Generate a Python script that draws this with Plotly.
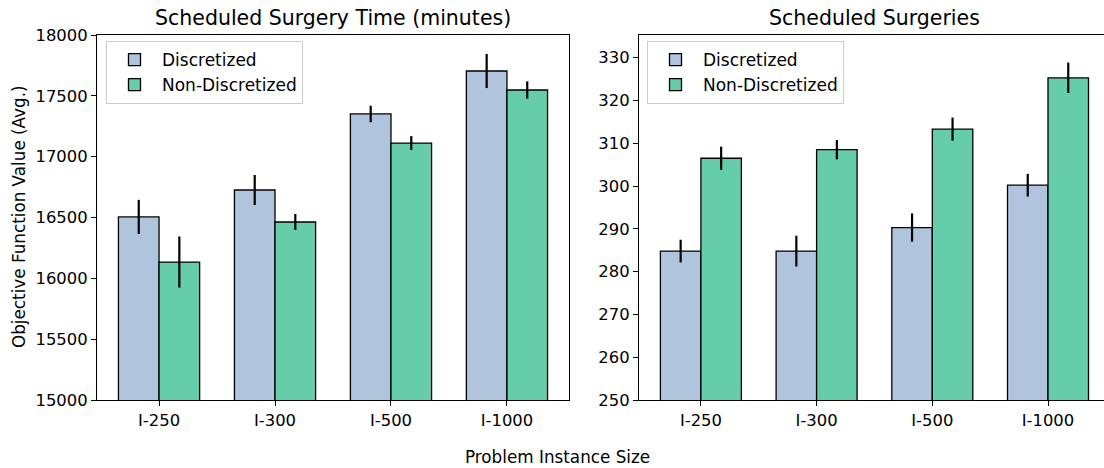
import plotly.graph_objects as go

categories = ["I-250", "I-300", "I-500", "I-1000"]

time_disc = [16505, 16726, 17351, 17704]
time_disc_err = [140, 123, 68, 140]
time_nondisc = [16134, 16463, 17112, 17548]
time_nondisc_err = [210, 66, 57, 71]

count_disc = [284.8, 284.8, 290.3, 300.2]
count_disc_err = [2.65, 3.6, 3.3, 2.65]
count_nondisc = [306.5, 308.5, 313.3, 325.3]
count_nondisc_err = [2.7, 2.25, 2.7, 3.55]

C_DISC = "#B0C4DE"
C_NON = "#66CDAA"
FONT = "DejaVu Sans"
W, H = 1104, 468

fig = go.Figure()

def add_pair(disc, disc_err, non, non_err, xa, ya, legend):
    for name, vals, errs, col in [("Discretized", disc, disc_err, C_DISC),
                                  ("Non-Discretized", non, non_err, C_NON)]:
        fig.add_trace(go.Bar(
            x=categories, y=vals, name=name, xaxis=xa, yaxis=ya, legend=legend,
            marker=dict(color=col, line=dict(color="black", width=1.3)),
            error_y=dict(type="data", array=errs, color="black", thickness=2.2, width=0),
            offsetgroup=name,
        ))

add_pair(time_disc, time_disc_err, time_nondisc, time_nondisc_err, "x", "y", "legend")
add_pair(count_disc, count_disc_err, count_nondisc, count_nondisc_err, "x2", "y2", "legend2")

ybot = 1 - 400 / H
ytop = 1 - 35 / H

axis_common = dict(
    showline=True, linecolor="black", linewidth=1.1,
    ticks="outside", ticklen=5, tickwidth=1.1, tickcolor="black",
    tickfont=dict(family=FONT, size=16.4, color="black"),
    showgrid=False, zeroline=False, automargin=False,
)

legend_common = dict(
    xanchor="left", yanchor="top",
    bgcolor="rgba(255,255,255,0.8)", bordercolor="#cccccc", borderwidth=1,
    font=dict(family=FONT, size=17, color="black"), itemwidth=45,
    tracegroupgap=0,
)

fig.update_layout(
    width=W, height=H, autosize=False,
    margin=dict(l=0, r=0, t=0, b=0, pad=0, autoexpand=False),
    paper_bgcolor="white", plot_bgcolor="white",
    barmode="group", bargap=0.3, bargroupgap=0,
    font=dict(family=FONT, color="black"),
    xaxis=dict(domain=[97 / W, 569 / W], anchor="y", type="category",
               range=[-0.535, 3.535], mirror=True, **axis_common),
    yaxis=dict(domain=[ybot, ytop], anchor="x", range=[15000, 18000], dtick=500,
               tickformat="d", mirror=True, **axis_common),
    xaxis2=dict(domain=[639 / W, 1.0], anchor="y2", type="category",
                range=[-0.535, 3.484], mirror=True, **axis_common),
    yaxis2=dict(domain=[ybot, ytop], anchor="x2", range=[250, 335.3], dtick=10,
                tickformat="d", mirror=False, **axis_common),
    legend=dict(x=106 / W, y=1 - 41 / H, **legend_common),
    legend2=dict(x=647 / W, y=1 - 41 / H, **legend_common),
    annotations=[
        dict(text="Scheduled Surgery Time (minutes)", x=333 / W, y=1 - 18 / H,
             xref="paper", yref="paper", showarrow=False, xanchor="center", yanchor="middle",
             font=dict(family=FONT, size=20.5, color="black")),
        dict(text="Scheduled Surgeries", x=874.5 / W, y=1 - 18 / H,
             xref="paper", yref="paper", showarrow=False, xanchor="center", yanchor="middle",
             font=dict(family=FONT, size=20.5, color="black")),
        dict(text="Objective Function Value (Avg.)", x=19 / W, y=1 - 217 / H,
             xref="paper", yref="paper", showarrow=False, textangle=-90,
             xanchor="center", yanchor="middle",
             font=dict(family=FONT, size=16.8, color="black")),
        dict(text="Problem Instance Size", x=557 / W, y=1 - 457 / H,
             xref="paper", yref="paper", showarrow=False, xanchor="center", yanchor="middle",
             font=dict(family=FONT, size=16.8, color="black")),
    ],
)

fig.write_html(
    "out.html",
    config={"responsive": False, "displayModeBar": False},
    post_script="document.body.style.margin='0px';document.body.style.overflow='hidden';",
)
